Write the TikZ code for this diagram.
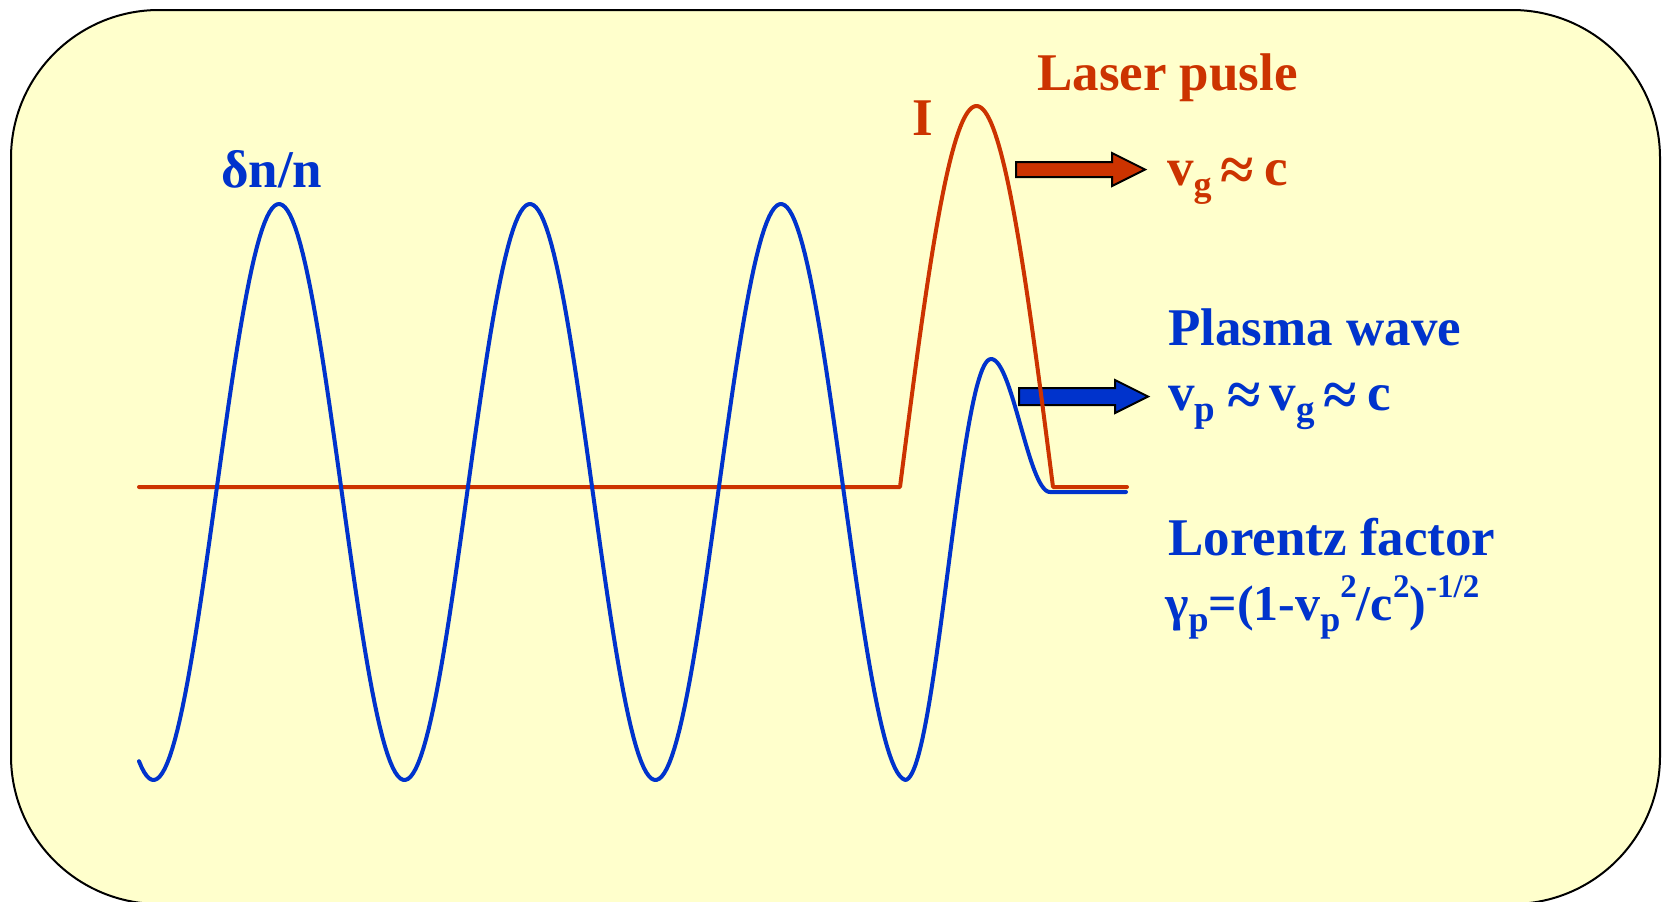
\documentclass[tikz,border=0pt]{standalone}
\usepackage{fontspec}
\setmainfont{Liberation Serif}
\definecolor{bgy}{HTML}{FFFFCC}
\definecolor{lred}{HTML}{CC3300}
\definecolor{pblue}{HTML}{0033CC}
\newcommand{\lowr}[2]{\raisebox{-0.22em}{\fontsize{#1}{#1}\selectfont #2}}
\newcommand{\highr}[2]{\raisebox{0.45em}{\fontsize{#1}{#1}\selectfont #2}}
\newcommand{\apx}{\raisebox{-5pt}{\scalebox{1.15}{≈}}}
\begin{document}
\begin{tikzpicture}[x=1pt,y=-1pt,
  txt/.style={inner sep=0pt, anchor=base west, font=\fontsize{53}{60}\selectfont\bfseries},
  formtxt/.style={inner sep=0pt, anchor=base west, font=\fontsize{50}{56}\selectfont\bfseries},
  lasertext/.style={text=lred},
  wavetext/.style={text=pblue},
  frame/.style={draw=black, line width=2pt, fill=bgy, rounded corners=148pt},
  blockarrow/.style={draw=black, line width=2pt, line join=miter},
  curve/.style={line width=4pt, line join=round, line cap=round}]
\useasboundingbox (0,0) rectangle (1665,902);
\path[frame] (11,10) rectangle (1660,904);

% block arrows
\path[blockarrow, fill=lred] (1016,162) -- (1112,162) -- (1112,153) -- (1145,169.5) -- (1112,186) -- (1112,177) -- (1016,177) -- cycle;
\path[blockarrow, fill=pblue] (1019,388) -- (1115,388) -- (1115,380) -- (1148,396.5) -- (1115,413) -- (1115,405) -- (1019,405) -- cycle;

% laser pulse intensity
\draw[curve, lred] (139,487) -- (900,487)
  -- plot[domain=900:1053, samples=80] ({\x},{487-381*sin(1.176471*(\x-900))})
  -- (1127,487);

% plasma wave density
\draw[curve, pblue]
  plot[domain=139:905, samples=300] ({\x},{492-288*cos(1.434263*(\x-279))})
  -- plot[domain=905:991, samples=50] ({\x},{569.5+210.5*cos(2.093023*(\x-905))})
  -- plot[domain=991:1050, samples=40] ({\x},{492-66.5*(1+cos(3.050847*(\x-991)))})
  -- (1126,492);

% labels
\node[txt, lasertext] (laser) at (1037,90) {Laser pusle};
\node[txt, lasertext] (inten) at (912,135) {I};
\node[txt, lasertext] (vg) at (1167,185) {v\lowr{36}{g}\kern9pt\apx\kern10pt c};
\node[txt, wavetext] (dn) at (221,187) {δn/n};
\node[txt, wavetext] (plasma) at (1168,345) {Plasma wave};
\node[txt, wavetext] (vpg) at (1168,410) {v\lowr{37}{p}\kern12pt\apx\kern9pt v\lowr{37}{g}\kern9pt\apx\kern10pt c};
\node[txt, wavetext] (lorentz) at (1168,555) {Lorentz factor};
\node[formtxt, wavetext] (gamma) at (1165,620) {γ\lowr{36}{p}=(1-v\lowr{36}{p}\highr{33}{2}/c\highr{33}{2})\highr{33}{-1/2}};
\end{tikzpicture}
\end{document}
